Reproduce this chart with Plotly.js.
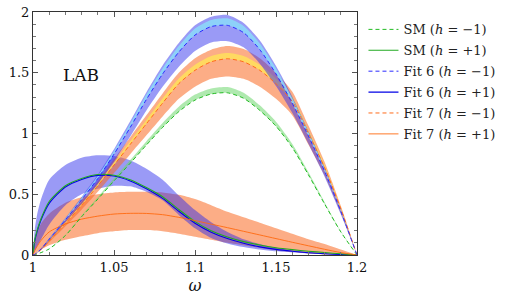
<!DOCTYPE html>
<html><head><meta charset="utf-8">
<script src="https://cdn.plot.ly/plotly-3.0.1.min.js"></script>
<style>html,body{margin:0;padding:0;background:#fff}#c{width:516px;height:299px}</style>
</head><body><div id="c"></div>
<script>
// omega grid
var omega = [1, 1.001, 1.0025, 1.005, 1.01, 1.02, 1.03, 1.04, 1.05, 1.06, 1.07, 1.08, 1.09, 1.10, 1.11, 1.12, 1.13, 1.14, 1.15, 1.16, 1.17, 1.18, 1.19, 1.2];

// SM
var smMinus      = [0, 0.002, 0.008, 0.02, 0.05, 0.16, 0.315, 0.46, 0.61, 0.755, 0.905, 1.05, 1.18, 1.275, 1.325, 1.335, 1.29, 1.19, 1.06, 0.885, 0.66, 0.42, 0.19, 0];
var smMinusHi    = [0, 0.002, 0.008, 0.021, 0.052, 0.166, 0.326, 0.476, 0.631, 0.781, 0.937, 1.087, 1.221, 1.32, 1.371, 1.382, 1.335, 1.232, 1.097, 0.916, 0.683, 0.435, 0.197, 0];
var smPlus       = [0, 0.12, 0.2, 0.30, 0.44, 0.57, 0.63, 0.662, 0.657, 0.62, 0.555, 0.48, 0.375, 0.275, 0.2, 0.148, 0.11, 0.082, 0.06, 0.044, 0.031, 0.02, 0.01, 0];

// Fit 6
var fit6Minus    = [0, 0.005, 0.02, 0.05, 0.13, 0.29, 0.455, 0.63, 0.83, 1.05, 1.28, 1.49, 1.67, 1.81, 1.88, 1.89, 1.83, 1.69, 1.49, 1.25, 0.98, 0.69, 0.36, 0];
var fit6MinusLo  = [0, 0.004, 0.018, 0.045, 0.12, 0.27, 0.42, 0.585, 0.77, 0.975, 1.19, 1.385, 1.55, 1.68, 1.75, 1.76, 1.71, 1.575, 1.39, 1.17, 0.915, 0.645, 0.335, 0];
var fit6MinusHi  = [0, 0.006, 0.022, 0.054, 0.137, 0.305, 0.478, 0.66, 0.87, 1.1, 1.34, 1.56, 1.745, 1.89, 1.96, 1.975, 1.91, 1.765, 1.555, 1.305, 1.02, 0.72, 0.375, 0];
var fit6MinusIn  = [0, 0.005, 0.021, 0.052, 0.134, 0.3, 0.47, 0.65, 0.855, 1.08, 1.32, 1.535, 1.72, 1.865, 1.935, 1.948, 1.885, 1.74, 1.535, 1.29, 1.01, 0.71, 0.37, 0];
var fit6Plus     = [0, 0.11, 0.19, 0.29, 0.425, 0.56, 0.622, 0.655, 0.65, 0.61, 0.545, 0.466, 0.36, 0.262, 0.188, 0.135, 0.096, 0.067, 0.046, 0.031, 0.019, 0.01, 0.004, 0];
var fit6PlusLo   = [0, 0.03, 0.07, 0.13, 0.25, 0.41, 0.50, 0.545, 0.57, 0.565, 0.52, 0.45, 0.33, 0.22, 0.14, 0.095, 0.065, 0.045, 0.03, 0.02, 0.012, 0.006, 0.002, 0];
var fit6PlusHi   = [0, 0.2, 0.33, 0.46, 0.62, 0.74, 0.80, 0.82, 0.815, 0.78, 0.71, 0.62, 0.49, 0.37, 0.27, 0.19, 0.13, 0.09, 0.06, 0.04, 0.025, 0.012, 0.004, 0];

// Fit 7
var fit7Minus    = [0, 0.004, 0.017, 0.045, 0.115, 0.26, 0.41, 0.57, 0.74, 0.91, 1.08, 1.25, 1.41, 1.52, 1.59, 1.615, 1.59, 1.52, 1.41, 1.265, 1.0, 0.72, 0.38, 0];
var fit7MinusLo  = [0, 0.0035, 0.015, 0.041, 0.105, 0.237, 0.373, 0.52, 0.675, 0.83, 0.985, 1.14, 1.285, 1.385, 1.45, 1.47, 1.45, 1.385, 1.285, 1.15, 0.91, 0.655, 0.345, 0];
var fit7MinusHi  = [0, 0.0045, 0.018, 0.048, 0.122, 0.277, 0.437, 0.607, 0.79, 0.97, 1.15, 1.33, 1.5, 1.62, 1.69, 1.72, 1.695, 1.62, 1.50, 1.345, 1.065, 0.765, 0.405, 0];
var fit7MinusIn  = [0, 0.004, 0.0175, 0.046, 0.118, 0.268, 0.422, 0.587, 0.762, 0.937, 1.112, 1.288, 1.452, 1.565, 1.638, 1.663, 1.638, 1.565, 1.452, 1.303, 1.03, 0.742, 0.391, 0];
var fit7Plus     = [0, 0.035, 0.07, 0.12, 0.19, 0.255, 0.295, 0.32, 0.337, 0.343, 0.342, 0.332, 0.31, 0.283, 0.254, 0.225, 0.195, 0.165, 0.135, 0.105, 0.076, 0.047, 0.02, 0];
var fit7PlusLo   = [0, 0.01, 0.025, 0.045, 0.08, 0.125, 0.155, 0.18, 0.195, 0.205, 0.205, 0.195, 0.175, 0.15, 0.125, 0.10, 0.08, 0.058, 0.04, 0.025, 0.013, 0.005, 0.001, 0];
var fit7PlusHi   = [0, 0.1, 0.18, 0.26, 0.34, 0.43, 0.475, 0.50, 0.515, 0.52, 0.52, 0.515, 0.495, 0.46, 0.41, 0.355, 0.31, 0.265, 0.22, 0.175, 0.13, 0.09, 0.045, 0];

var xTicks = [1, 1.05, 1.1, 1.15, 1.2];
var xTickText = ['1', '1.05', '1.1', '1.15', '1.2'];
var yTicks = [0, 0.5, 1, 1.5, 2];
var yTickText = ['0', '0.5', '1', '1.5', '2'];

var SERIF = 'DejaVu Serif';
var sp = {shape: 'spline', smoothing: 0.7};

function band(lo, hi, color) {
  return [
    {x: omega, y: lo, mode: 'lines', line: Object.assign({width: 0, color: color}, sp), showlegend: false, hoverinfo: 'skip'},
    {x: omega, y: hi, mode: 'lines', line: Object.assign({width: 0, color: color}, sp), fill: 'tonexty', fillcolor: color, showlegend: false, hoverinfo: 'skip'}
  ];
}
function curve(y, name, color, width, dash, rank) {
  return {x: omega, y: y, name: name, mode: 'lines', legendrank: rank, legendgroup: 'g' + rank,
          line: Object.assign({color: color, width: width, dash: dash}, sp)};
}

var traces = [];
traces = traces.concat(band(fit7PlusLo, fit7PlusHi, 'rgba(250,105,35,0.55)'));
traces = traces.concat(band(fit6PlusLo, fit6PlusHi, 'rgba(40,40,235,0.47)'));
traces = traces.concat(band(smMinus, smMinusHi, 'rgba(110,215,110,0.55)'));
traces = traces.concat(band(fit7MinusLo, fit7MinusHi, 'rgba(250,105,35,0.55)'));
traces = traces.concat(band(fit7Minus, fit7MinusIn, 'rgba(255,225,90,0.85)'));
traces = traces.concat(band(fit6MinusLo, fit6MinusHi, 'rgba(40,40,235,0.47)'));
traces = traces.concat(band(fit6Minus, fit6MinusIn, 'rgba(140,215,250,0.9)'));

var cSMm = curve(smMinus, 'SM (<i>h</i> = −1)', '#22bb22', 1, '4px,3px', 1);
var cSMp = curve(smPlus, 'SM (<i>h</i> = +1)', '#22aa22', 1.1, 'solid', 2);
var c6m  = curve(fit6Minus, 'Fit 6 (<i>h</i> = −1)', '#2a2aff', 1, '4px,3px', 3);
var c6p  = curve(fit6Plus, 'Fit 6 (<i>h</i> = +1)', '#0000e6', 1.1, 'solid', 4);
var c7m  = curve(fit7Minus, 'Fit 7 (<i>h</i> = −1)', '#ff6a1a', 1, '4px,3px', 5);
var c7p  = curve(fit7Plus, 'Fit 7 (<i>h</i> = +1)', '#ff6a10', 0.9, 'solid', 6);
traces.push(c6p, cSMp, c7p, cSMm, c7m, c6m);

var axisCommon = {
  showgrid: false, zeroline: false, showline: true, mirror: 'ticks',
  linecolor: '#333', linewidth: 1, ticks: 'inside', ticklen: 5, tickcolor: '#555', tickwidth: 1,
  tickfont: {family: SERIF, size: 13, color: '#111'}
};

var layout = {
  width: 516, height: 299,
  margin: {l: 33, r: 159, t: 12, b: 44},
  paper_bgcolor: '#fff', plot_bgcolor: '#fff',
  showlegend: true,
  legend: {x: 1.02, y: 0.99, xanchor: 'left', yanchor: 'top', font: {family: SERIF, size: 13, color: '#222'},
           bgcolor: 'rgba(0,0,0,0)', borderwidth: 0, traceorder: 'grouped', itemwidth: 30, tracegroupgap: 1},
  xaxis: Object.assign({}, axisCommon, {
    range: [1, 1.2], tickmode: 'array', tickvals: xTicks, ticktext: xTickText,
    minor: {dtick: 0.01, tick0: 1, ticks: 'inside', ticklen: 3, tickcolor: '#777', showgrid: false},
    title: {text: '<i>ω</i>', font: {family: SERIF, size: 16, color: '#111'}, standoff: 6}
  }),
  yaxis: Object.assign({}, axisCommon, {
    range: [0, 2], tickmode: 'array', tickvals: yTicks, ticktext: yTickText,
    minor: {dtick: 0.1, tick0: 0, ticks: 'inside', ticklen: 3, tickcolor: '#777', showgrid: false}
  }),
  annotations: [{x: 1.0296, y: 1.48, xref: 'x', yref: 'y', text: 'LAB', showarrow: false,
                 font: {family: SERIF, size: 17, color: '#111'}}]
};

Plotly.newPlot('c', traces, layout, {displayModeBar: false, staticPlot: true});
</script>
</body></html>
